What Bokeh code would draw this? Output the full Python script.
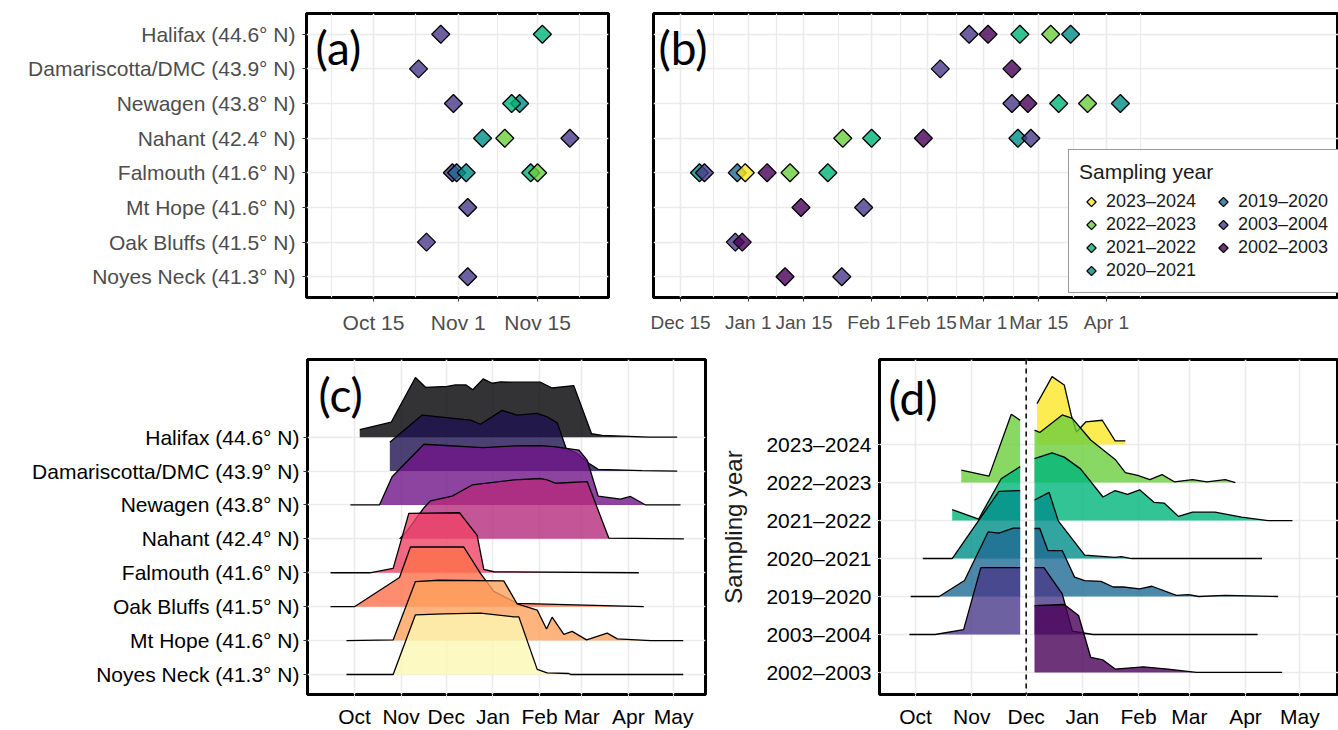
import numpy as np
from bokeh.plotting import figure
from bokeh.layouts import row, column
from bokeh.models import (Range1d, FixedTicker, Legend, LegendItem, Label, Span,
                          ColumnDataSource)
from bokeh.embed import file_html
from bokeh.resources import INLINE

FONT = "Liberation Sans"
PANEL_FONT = "Lato"

# ---------------- data ----------------
site_keys_ab = ["Halifax", "Damariscotta", "Newagen", "Nahant", "Falmouth",
                "Mt Hope", "Oak Bluffs", "Noyes Neck"]
site_labels_ab = ["Halifax (44.6° N)", "Damariscotta/DMC (43.9° N)", "Newagen (43.8° N)",
                  "Nahant (42.4° N)", "Falmouth (41.6° N)", "Mt Hope (41.6° N)",
                  "Oak Bluffs (41.5° N)", "Noyes Neck (41.3° N)"]

years = ["2023–2024", "2022–2023", "2021–2022", "2020–2021", "2019–2020", "2003–2004", "2002–2003"]
year_colors = ["#FDE725", "#6CCE3C", "#00B57A", "#008F8A", "#1F6A93", "#48398A", "#4A0159"]

# (a) first appearance, days since Oct 1
a_site = ["Halifax", "Halifax", "Damariscotta", "Newagen", "Newagen", "Newagen",
          "Nahant", "Nahant", "Nahant", "Falmouth", "Falmouth", "Falmouth", "Falmouth",
          "Falmouth", "Mt Hope", "Oak Bluffs", "Noyes Neck"]
a_year = ["2003–2004", "2021–2022", "2003–2004", "2003–2004", "2021–2022", "2020–2021",
          "2020–2021", "2022–2023", "2003–2004", "2003–2004", "2019–2020", "2020–2021",
          "2021–2022", "2022–2023", "2003–2004", "2003–2004", "2003–2004"]
a_day = [26.7, 45.9, 22.5, 29.1, 40.1, 41.6,
         34.6, 38.8, 51.1, 28.9, 29.7, 31.5,
         43.7, 45.0, 31.8, 24.0, 31.8]
a_ticks = [14, 30, 45]
a_tick_labels = ["Oct 15", "Nov 1", "Nov 15"]
a_minor = [6, 22, 37.5, 53]

# (b) last appearance, days since Dec 15
b_site = ["Halifax"] * 5 + ["Damariscotta"] * 2 + ["Newagen"] * 5 + ["Nahant"] * 5 + \
         ["Falmouth"] * 7 + ["Mt Hope"] * 2 + ["Oak Bluffs"] * 2 + ["Noyes Neck"] * 2
b_year = ["2003–2004", "2002–2003", "2021–2022", "2022–2023", "2020–2021",
          "2003–2004", "2002–2003",
          "2003–2004", "2002–2003", "2021–2022", "2022–2023", "2020–2021",
          "2022–2023", "2021–2022", "2002–2003", "2020–2021", "2003–2004",
          "2020–2021", "2003–2004", "2019–2020", "2023–2024", "2002–2003", "2022–2023", "2021–2022",
          "2002–2003", "2003–2004",
          "2003–2004", "2002–2003",
          "2002–2003", "2003–2004"]
b_day = [72.5, 77.25, 85.25, 93.0, 98.0,
         65.25, 83.25,
         83.25, 87.25, 95.0, 102.25, 110.5,
         40.75, 48.0, 61.0, 84.75, 88.0,
         4.75, 6.0, 14.25, 16.25, 21.75, 27.5, 37.0,
         30.25, 46.0,
         13.75, 15.5,
         26.25, 40.5]
b_ticks = [0, 17, 31, 48, 62, 76, 90, 107]
b_tick_labels = ["Dec 15", "Jan 1", "Jan 15", "Feb 1", "Feb 15", "Mar 1", "Mar 15", "Apr 1"]
b_minor = [8.3, 24.1, 39.7, 55.3, 69.3, 83.7, 98.7, 115.6]

# (c) ridgelines by site, days since Oct 1 / scaled height
month_ticks = [0, 31, 61, 92, 123, 151, 182, 212]
month_labels = ["Oct", "Nov", "Dec", "Jan", "Feb", "Mar", "Apr", "May"]

c_sites = ["Halifax (44.6° N)", "Damariscotta/DMC (43.9° N)", "Newagen (43.8° N)",
           "Nahant (42.4° N)", "Falmouth (41.6° N)", "Oak Bluffs (41.5° N)",
           "Mt Hope (41.6° N)", "Noyes Neck (41.3° N)"]
c_colors = ["#000004", "#1E1350", "#6F1588", "#B52B7D", "#EE4466", "#FD704A", "#FDA35D", "#FCF8B4"]

c_halifax_x = [3.5, 24.4, 40.5, 47.2, 61.6, 67.1, 74.2, 78.6, 85.5, 91.5, 97.0, 105.9, 123.6, 131.3, 145.7, 157.5, 164.6, 195.6, 214.4]
c_halifax_h = [0.22, 0.44, 1.76, 1.47, 1.50, 1.54, 1.54, 1.40, 1.72, 1.59, 1.63, 1.62, 1.62, 1.45, 1.52, 0.10, 0.05, 0.0, 0.0]
c_dmc_x = [23.5, 45.0, 77.1, 83.7, 98.1, 108.1, 121.4, 128.0, 134.7, 140.6, 148.0, 155.7, 161.9, 191.1, 214.4]
c_dmc_h = [0.85, 1.65, 1.50, 1.38, 1.79, 1.65, 1.70, 1.60, 1.42, 0.67, 0.52, 0.23, 0.05, 0.01, 0.0]
c_newagen_x = [-2.7, 16.6, 25.0, 46.1, 85.5, 105.9, 123.6, 132.4, 149.0, 154.6, 161.9, 176.7, 183.4, 193.4, 216.6]
c_newagen_h = [0.0, 0.0, 0.83, 1.79, 1.69, 1.74, 1.75, 1.72, 1.62, 1.32, 0.26, 0.17, 0.25, 0.0, 0.0]
c_nahant_x = [30.0, 34.0, 46.0, 50.5, 64.9, 78.2, 105.9, 123.6, 128.0, 133.6, 154.6, 169.0, 218.8]
c_nahant_h = [0.0, 0.18, 0.91, 1.12, 1.26, 1.59, 1.74, 1.78, 1.74, 1.64, 1.69, 0.02, 0.0]
c_falmouth_x = [-15.9, 10.2, 25.7, 36.1, 69.8, 81.5, 85.9, 92.6, 188.9]
c_falmouth_h = [0.0, 0.0, 0.13, 1.75, 1.77, 1.10, 0.10, 0.03, 0.0]
c_oak_x = [-15.9, 0.0, 29.9, 37.2, 72.6, 83.7, 92.6, 108.1, 192.2]
c_oak_h = [0.0, 0.0, 0.86, 1.76, 1.76, 0.98, 0.45, 0.10, 0.0]
c_mthope_x = [-5.3, 25.7, 40.5, 56.0, 99.2, 108.1, 121.4, 127.6, 131.3, 139.1, 144.6, 154.2, 167.9, 174.6, 196.7, 218.4]
c_mthope_h = [0.0, 0.02, 1.74, 1.78, 1.76, 1.08, 0.90, 0.34, 0.69, 0.18, 0.27, 0.02, 0.22, 0.05, 0.0, 0.0]
c_noyes_x = [-5.3, 25.7, 40.5, 59.3, 83.7, 105.9, 109.2, 121.4, 128.0, 142.4, 143.5, 218.4]
c_noyes_h = [0.0, 0.0, 1.76, 1.79, 1.81, 1.70, 1.70, 0.15, 0.05, 0.03, 0.0, 0.0]

# (d) ridgelines by sampling year (before / after Dec 1)
d_years = ["2023–2024", "2022–2023", "2021–2022", "2020–2021", "2019–2020", "2003–2004", "2002–2003"]
d_dec1 = 61
d_2324_left_x, d_2324_left_h = [], []
d_2324_right_x = [67.0, 75.3, 82.0, 85.9, 88.8, 94.0, 103.0, 110.1, 115.7]
d_2324_right_h = [1.08, 1.79, 1.57, 0.77, 0.33, 0.60, 0.64, 0.10, 0.10]
d_2223_left_x = [25.2, 40.5, 52.8, 57.7]
d_2223_left_h = [0.33, 0.17, 1.80, 1.64]
d_2223_right_x = [65.6, 68.5, 80.9, 86.5, 96.6, 110.1, 115.7, 122.5, 129.2, 136.0, 142.7, 152.8, 160.7, 170.8, 176.4]
d_2223_right_h = [1.38, 1.32, 1.78, 1.69, 1.12, 0.61, 0.26, 0.19, 0.08, 0.21, 0.02, 0.08, 0.02, 0.08, 0.0]
d_2122_left_x = [20.2, 34.8, 47.2, 57.7]
d_2122_left_h = [0.29, 0.04, 1.10, 1.42]
d_2122_right_x = [65.6, 75.3, 82.0, 91.0, 103.4, 110.1, 116.9, 123.6, 131.5, 137.1, 145.0, 152.8, 165.2, 179.8, 194.4, 207.9]
d_2122_right_h = [1.63, 1.78, 1.67, 1.36, 0.62, 0.79, 0.69, 0.81, 0.48, 0.46, 0.11, 0.22, 0.22, 0.09, 0.0, 0.0]
d_2021_left_x = [4.0, 20.2, 46.0, 57.7]
d_2021_left_h = [0.0, 0.0, 1.77, 1.79]
d_2021_right_x = [65.6, 73.7, 78.7, 93.3, 110.1, 113.5, 119.1, 191.1]
d_2021_right_h = [1.54, 1.74, 0.99, 0.09, 0.03, 0.05, 0.0, 0.0]
d_1920_left_x = [-2.7, 13.0, 27.0, 40.0, 46.0, 53.9, 57.7]
d_1920_left_h = [0.0, 0.0, 0.42, 1.70, 1.67, 1.80, 1.80]
d_1920_right_x = [65.6, 68.5, 73.0, 80.9, 87.7, 93.3, 102.3, 109.0, 114.6, 123.6, 130.4, 143.9, 150.6, 156.2, 170.8, 200.0]
d_1920_right_h = [1.79, 1.79, 1.21, 1.21, 0.51, 0.42, 0.40, 0.25, 0.25, 0.20, 0.27, 0.03, 0.05, 0.0, 0.03, 0.0]
d_0304_left_x = [-3.4, 10.8, 26.5, 36.0, 57.7]
d_0304_left_h = [0.0, 0.0, 0.13, 1.76, 1.76]
d_0304_right_x = [65.6, 70.8, 80.9, 86.5, 97.8, 188.7]
d_0304_right_h = [1.76, 1.76, 1.07, 0.09, 0.0, 0.0]
d_0203_left_x, d_0203_left_h = [], []
d_0203_right_x = [65.6, 82.0, 89.9, 96.6, 103.4, 110.1, 125.7, 139.2, 155.0, 202.2]
d_0203_right_h = [1.76, 1.79, 1.50, 0.40, 0.33, 0.09, 0.15, 0.09, 0.0, 0.0]

# ---------------- helpers ----------------
GRID = "#ebebeb"


def base_fig(width, height, xr, yr, bl, br, bt, bb):
    p = figure(width=width, height=height, x_range=Range1d(*xr), y_range=Range1d(*yr),
               output_backend="svg", toolbar_location=None,
               min_border_left=bl, min_border_right=br, min_border_top=bt, min_border_bottom=bb)
    p.outline_line_color = "black"
    p.outline_line_width = 3
    p.outline_line_alpha = 1
    p.background_fill_color = "white"
    p.border_fill_color = "white"
    for ax in (p.xaxis[0], p.yaxis[0]):
        ax.axis_line_color = None
        ax.major_label_text_font = FONT
        ax.major_label_text_font_size = "21px"
        ax.minor_tick_line_color = None
        ax.major_tick_in = 0
        ax.major_tick_out = 4
        ax.major_tick_line_width = 1
    p.xgrid.grid_line_color = GRID
    p.ygrid.grid_line_color = GRID
    p.xgrid.grid_line_width = 1.6
    p.ygrid.grid_line_width = 1.6
    return p


def set_ticks(ax, grid, ticks, labels, minor=None):
    t = FixedTicker(ticks=[float(v) for v in ticks], minor_ticks=list(minor or []))
    ax.ticker = t
    grid.ticker = t
    ax.major_label_overrides = {float(v): lab for v, lab in zip(ticks, labels)}


def panel_label(p, text, dx, dy):
    p.add_layout(Label(x=p.x_range.start, y=p.y_range.end, x_offset=dx, y_offset=-dy,
                       text=text, text_font=PANEL_FONT, text_font_size="46px",
                       text_baseline="top", text_align="left", text_color="black"))


def ridge(p, xs, hs, base, color, alpha):
    if len(xs) == 0:
        return
    xs = np.asarray(xs, dtype=float)
    hs = np.asarray(hs, dtype=float)
    src = ColumnDataSource(dict(x=xs, y1=np.full_like(xs, base), y2=base + hs))
    p.varea(x="x", y1="y1", y2="y2", source=src, fill_color=color, fill_alpha=alpha)
    p.line(x="x", y="y2", source=src, line_color="black", line_width=1.3)


ycolor = dict(zip(years, year_colors))
site_y = {k: 8 - i for i, k in enumerate(site_keys_ab)}
HAS_NGON = hasattr(figure, "ngon")


def diamonds(p, src, color):
    style = dict(fill_color=color, fill_alpha=0.8, line_color="black", line_width=1.3)
    if HAS_NGON:
        return p.ngon(x="x", y="y", radius=9, radius_units="screen", n=4, source=src, **style)
    return p.scatter(x="x", y="y", source=src, marker="square", angle=np.pi / 4, size=12.5, **style)


def points(p, sites, yrs, days, order):
    rends = {}
    for yr in order:
        idx = [i for i, v in enumerate(yrs) if v == yr]
        src = ColumnDataSource(dict(x=[days[i] for i in idx], y=[site_y[sites[i]] for i in idx]))
        rends[yr] = diamonds(p, src, ycolor[yr])
    return rends


# ---------------- panel (a) ----------------
pa = base_fig(630, 340, (1.33, 58.4), (0.4, 8.6), 306, 22, 13, 43)
set_ticks(pa.xaxis[0], pa.xgrid[0], a_ticks, a_tick_labels, a_minor)
set_ticks(pa.yaxis[0], pa.ygrid[0], [8 - i for i in range(8)], site_labels_ab)
pa.xgrid.minor_grid_line_color = GRID
pa.xgrid.minor_grid_line_width = 1.2
for ax in (pa.xaxis[0], pa.yaxis[0]):
    ax.major_label_text_color = "#4d4d4d"
    ax.major_tick_line_color = "#333333"
pa.xaxis.major_label_standoff = 9
pa.yaxis.major_label_standoff = 7
points(pa, a_site, a_year, a_day,
       ["2002–2003", "2003–2004", "2019–2020", "2020–2021", "2021–2022", "2022–2023", "2023–2024"])
panel_label(pa, "(a)", 9, 6)

# ---------------- panel (b) ----------------
pb = base_fig(708, 340, (-6.8, 165.3), (0.4, 8.6), 23, 0, 13, 43)
set_ticks(pb.xaxis[0], pb.xgrid[0], b_ticks, b_tick_labels, b_minor)
set_ticks(pb.yaxis[0], pb.ygrid[0], [8 - i for i in range(8)], site_labels_ab)
pb.yaxis.visible = False
pb.xgrid.minor_grid_line_color = GRID
pb.xgrid.minor_grid_line_width = 1.2
pb.xaxis.major_label_text_color = "#4d4d4d"
pb.xaxis.major_tick_line_color = "#333333"
pb.xaxis.major_label_text_font_size = "19px"
pb.xaxis.major_label_standoff = 10
rb = points(pb, b_site, b_year, b_day,
            ["2020–2021", "2003–2004", "2002–2003", "2019–2020", "2021–2022", "2022–2023", "2023–2024"])

leg = Legend(items=[LegendItem(label=y, renderers=[rb[y]]) for y in years],
             title="Sampling year", ncols=2, location=(415, 4),
             title_text_font=FONT, title_text_font_size="21px", title_text_font_style="normal",
             title_text_color="#1a1a1a", title_standoff=6,
             label_text_font=FONT, label_text_font_size="18px", label_text_color="#1a1a1a",
             glyph_width=24, glyph_height=23, label_standoff=3, label_width=105, spacing=0,
             padding=10, margin=0, border_line_color="#333333", border_line_width=1,
             background_fill_color="white", background_fill_alpha=1)
pb.add_layout(leg)
panel_label(pb, "(b)", 5, 6)

# ---------------- panel (c) ----------------
pc = base_fig(712, 390, (-31.2, 233.2), (-0.59, 9.29), 307, 7, 19, 35)
set_ticks(pc.xaxis[0], pc.xgrid[0], month_ticks, month_labels)
set_ticks(pc.yaxis[0], pc.ygrid[0], [7 - i for i in range(8)], c_sites)
pc.xaxis.major_label_text_color = "black"
pc.yaxis.major_label_text_color = "black"
pc.xaxis.major_tick_line_color = "#e5e5e5"
pc.yaxis.major_tick_line_color = "#333333"
pc.xaxis.major_label_standoff = 6
pc.yaxis.major_label_standoff = 4
c_series = [(c_halifax_x, c_halifax_h), (c_dmc_x, c_dmc_h), (c_newagen_x, c_newagen_h),
            (c_nahant_x, c_nahant_h), (c_falmouth_x, c_falmouth_h), (c_oak_x, c_oak_h),
            (c_mthope_x, c_mthope_h), (c_noyes_x, c_noyes_h)]
for i, (xs, hs) in enumerate(c_series):
    ridge(pc, xs, hs, 7 - i, c_colors[i], 0.8)
panel_label(pc, "(c)", 11, 7)

# ---------------- panel (d) ----------------
pd_ = base_fig(626, 390, (-19.9, 233.3), (-0.58, 8.24), 167, 0, 19, 35)
set_ticks(pd_.xaxis[0], pd_.xgrid[0], month_ticks, month_labels)
set_ticks(pd_.yaxis[0], pd_.ygrid[0], [6 - i for i in range(7)], d_years)
pd_.xaxis.major_label_text_color = "black"
pd_.yaxis.major_label_text_color = "black"
pd_.xaxis.major_tick_line_color = "#e5e5e5"
pd_.yaxis.major_tick_line_color = "#e5e5e5"
pd_.xaxis.major_label_standoff = 6
pd_.yaxis.major_label_standoff = 4
pd_.yaxis.axis_label = "Sampling year"
pd_.yaxis.axis_label_text_font = FONT
pd_.yaxis.axis_label_text_font_size = "24px"
pd_.yaxis.axis_label_text_font_style = "normal"
pd_.yaxis.axis_label_text_color = "#1a1a1a"
pd_.yaxis.axis_label_standoff = 16
d_series = [(d_2324_left_x, d_2324_left_h, d_2324_right_x, d_2324_right_h),
            (d_2223_left_x, d_2223_left_h, d_2223_right_x, d_2223_right_h),
            (d_2122_left_x, d_2122_left_h, d_2122_right_x, d_2122_right_h),
            (d_2021_left_x, d_2021_left_h, d_2021_right_x, d_2021_right_h),
            (d_1920_left_x, d_1920_left_h, d_1920_right_x, d_1920_right_h),
            (d_0304_left_x, d_0304_left_h, d_0304_right_x, d_0304_right_h),
            (d_0203_left_x, d_0203_left_h, d_0203_right_x, d_0203_right_h)]
for i, (lx, lh, rx, rh) in enumerate(d_series):
    col = ycolor[d_years[i]]
    ridge(pd_, lx, lh, 6 - i, col, 0.8)
    ridge(pd_, rx, rh, 6 - i, col, 0.8)
pd_.add_layout(Span(location=d_dec1, dimension="height", line_color="black",
                    line_dash="5 4", line_width=1.5))
panel_label(pd_, "(d)", 9, 10)

layout = column(row(pa, pb), row(pc, pd_))
open("out.html", "w").write(file_html(layout, INLINE))
